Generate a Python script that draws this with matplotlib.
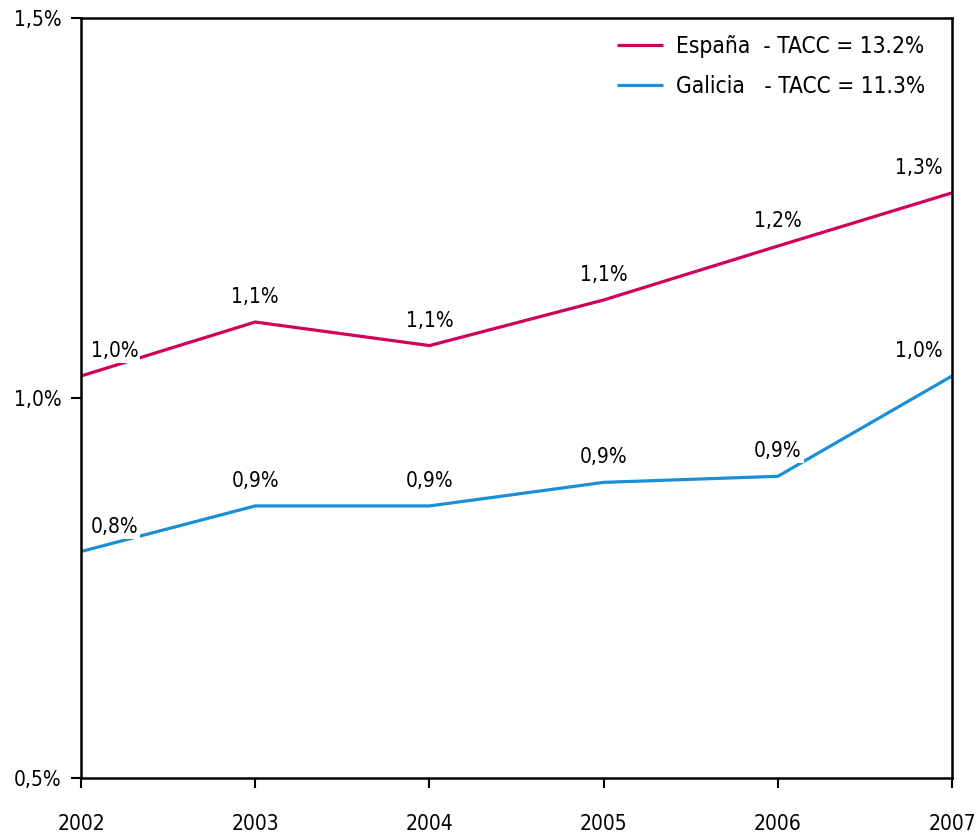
import matplotlib
matplotlib.use("Agg")
import matplotlib.pyplot as plt

years = [2002, 2003, 2004, 2005, 2006, 2007]
espana = [1.029, 1.100, 1.069, 1.129, 1.200, 1.270]
galicia = [0.798, 0.858, 0.858, 0.889, 0.897, 1.029]
espana_labels = ["1,0%", "1,1%", "1,1%", "1,1%", "1,2%", "1,3%"]
galicia_labels = ["0,8%", "0,9%", "0,9%", "0,9%", "0,9%", "1,0%"]
legend_labels = ["España  - TACC = 13.2%", "Galicia   - TACC = 11.3%"]
yticks = [0.5, 1.0, 1.5]
ytick_labels = ["0,5%", "1,0%", "1,5%"]

c_es = "#D1005B"
c_ga = "#1B8FD6"

plt.rcParams['font.family'] = ['DejaVu Sans']
plt.rcParams['font.stretch'] = 'condensed'
FS = 15

fig = plt.figure(figsize=(9.8, 8.36), dpi=100)
ax = fig.add_axes([0.0827, 0.0694, 0.8888, 0.909])

ax.plot(years, espana, color=c_es, lw=2.3, label=legend_labels[0], solid_capstyle='butt')
ax.plot(years, galicia, color=c_ga, lw=2.3, label=legend_labels[1], solid_capstyle='butt')

def annotate(xs, ys, labels):
    n = len(xs)
    for i, (x, y, t) in enumerate(zip(xs, ys, labels)):
        dx = 0
        if i == 0:
            dx = 24
        elif i == n - 1:
            dx = -24
        ax.annotate(t, (x, y), xytext=(dx, 18), textcoords='offset points',
                    ha='center', va='center', fontsize=FS,
                    bbox=dict(boxstyle='square,pad=0.1', fc='white', ec='none'))

annotate(years, espana, espana_labels)
annotate(years, galicia, galicia_labels)

ax.set_xlim(years[0], years[-1])
ax.set_ylim(0.5, 1.5)
ax.set_xticks(years)
ax.set_xticklabels([str(y) for y in years], fontsize=FS)
ax.set_yticks(yticks)
ax.set_yticklabels(ytick_labels, fontsize=FS)
ax.tick_params(axis='x', direction='out', length=7, width=1.5, pad=19)
ax.tick_params(axis='y', direction='out', length=7, width=1.5, pad=7)
for s in ax.spines.values():
    s.set_linewidth(1.8)
    s.set_color('black')

leg = ax.legend(loc='upper right', frameon=False, fontsize=16.3, handlelength=2.0,
                handletextpad=0.6, labelspacing=0.75, bbox_to_anchor=(0.993, 1.005))

fig.savefig("out.png", dpi=100)
